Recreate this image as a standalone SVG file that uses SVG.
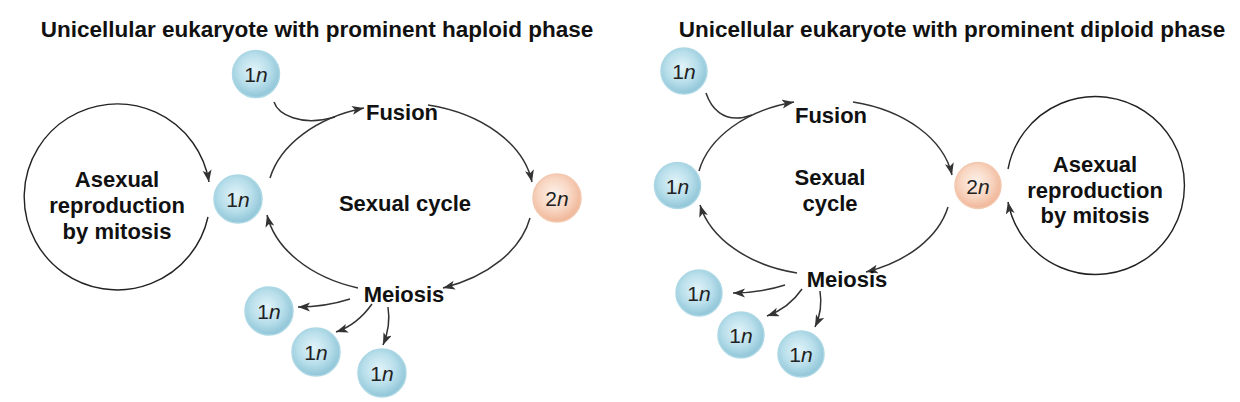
<svg xmlns="http://www.w3.org/2000/svg" width="1240" height="402" viewBox="0 0 1240 402">
<defs>
<style>
.t{font-family:"Liberation Sans",Arial,sans-serif;font-weight:bold;font-size:22px;fill:#111;text-anchor:middle}
.h{font-size:22.5px}
.c{font-family:"Liberation Sans",Arial,sans-serif;font-size:21px;fill:#222;text-anchor:middle}
.c tspan.i{font-style:italic}
.ln{fill:none;stroke:#333;stroke-width:1.5}
.ring{fill:none;stroke:#222;stroke-width:1.4}
.blue{fill:url(#gb);stroke:#acd7e4;stroke-width:1.5}
.orange{fill:url(#go);stroke:#f3c8b0;stroke-width:1.5}
</style>
<radialGradient id="gb" cx="45%" cy="42%" r="60%">
<stop offset="0" stop-color="#e2f3f9"/>
<stop offset="0.55" stop-color="#b9dfeb"/>
<stop offset="1" stop-color="#8cc3d6"/>
</radialGradient>
<radialGradient id="go" cx="45%" cy="42%" r="60%">
<stop offset="0" stop-color="#fdf2ea"/>
<stop offset="0.55" stop-color="#f8d6c2"/>
<stop offset="1" stop-color="#efb394"/>
</radialGradient>
<marker id="ah" markerUnits="userSpaceOnUse" markerWidth="13" markerHeight="10" refX="12" refY="4.5" orient="auto">
<path d="M0,0 L12,4.5 L0,9 L3,4.5 z" fill="#333"/>
</marker>
</defs>

<g id="titles">
<text class="t h" x="317" y="37">Unicellular eukaryote with prominent haploid phase</text>
<text class="t h" x="952" y="37">Unicellular eukaryote with prominent diploid phase</text>
</g>

<g id="connectors">
<!-- left panel -->
<path class="ring" d="M208 217 A93 93 0 1 1 209 182" marker-end="url(#ah)"/>
<path class="ln" d="M270 178 A135 93 0 0 1 364 108" marker-end="url(#ah)"/>
<path class="ln" d="M274 102 C278 114 300 127 335 117"/>
<path class="ln" d="M428 105 A135 93 0 0 1 532 182" marker-end="url(#ah)"/>
<path class="ln" d="M530 218 A135 93 0 0 1 443 288" marker-end="url(#ah)"/>
<path class="ln" d="M358 288 A135 93 0 0 1 267 215" marker-end="url(#ah)"/>
<path class="ln" d="M350 299 Q325 307 298 307" marker-end="url(#ah)"/>
<path class="ln" d="M372 304 Q357 325 336 332" marker-end="url(#ah)"/>
<path class="ln" d="M388 307 Q391 326 383 345" marker-end="url(#ah)"/>
<!-- right panel -->
<path class="ring" d="M1008 169 A89 89 0 1 1 1008 202" marker-end="url(#ah)"/>
<path class="ln" d="M699 171 A129 89 0 0 1 794 102" marker-end="url(#ah)"/>
<path class="ln" d="M706 93 C710 105 722 126 752 115"/>
<path class="ln" d="M853 102 A129 89 0 0 1 952 175" marker-end="url(#ah)"/>
<path class="ln" d="M948 207 A129 89 0 0 1 866 272" marker-end="url(#ah)"/>
<path class="ln" d="M797 273 A129 89 0 0 1 700 205" marker-end="url(#ah)"/>
<path class="ln" d="M785 285 Q760 293 733 293" marker-end="url(#ah)"/>
<path class="ln" d="M802 289 Q789 308 767 316" marker-end="url(#ah)"/>
<path class="ln" d="M820 291 Q823 310 815 327" marker-end="url(#ah)"/>
</g>

<!-- left panel nodes -->
<g id="L-asexual"><text class="t" x="117" y="187">Asexual</text><text class="t" x="117" y="213">reproduction</text><text class="t" x="117" y="239">by mitosis</text></g>
<g id="L-sexual"><text class="t" x="405" y="211">Sexual cycle</text></g>
<g id="L-fusion"><text class="t" x="402" y="120">Fusion</text></g>
<g id="L-meiosis"><text class="t" x="404" y="302">Meiosis</text></g>
<g id="L-1n-top"><circle class="blue" cx="256" cy="74" r="23.5"/><text class="c" x="256" y="82">1<tspan class="i">n</tspan></text></g>
<g id="L-1n-mid"><circle class="blue" cx="238" cy="199" r="24"/><text class="c" x="238" y="207">1<tspan class="i">n</tspan></text></g>
<g id="L-2n"><circle class="orange" cx="557" cy="198" r="24"/><text class="c" x="557" y="206">2<tspan class="i">n</tspan></text></g>
<g id="L-1n-a"><circle class="blue" cx="269" cy="311" r="24"/><text class="c" x="269" y="319">1<tspan class="i">n</tspan></text></g>
<g id="L-1n-b"><circle class="blue" cx="316" cy="352" r="24"/><text class="c" x="316" y="360">1<tspan class="i">n</tspan></text></g>
<g id="L-1n-c"><circle class="blue" cx="382" cy="373" r="24"/><text class="c" x="382" y="381">1<tspan class="i">n</tspan></text></g>

<!-- right panel nodes -->
<g id="R-asexual"><text class="t" x="1095" y="172">Asexual</text><text class="t" x="1095" y="198">reproduction</text><text class="t" x="1095" y="223">by mitosis</text></g>
<g id="R-sexual"><text class="t" x="830" y="185">Sexual</text><text class="t" x="830" y="211">cycle</text></g>
<g id="R-fusion"><text class="t" x="831" y="123">Fusion</text></g>
<g id="R-meiosis"><text class="t" x="847" y="287">Meiosis</text></g>
<g id="R-1n-top"><circle class="blue" cx="684" cy="71" r="23"/><text class="c" x="684" y="79">1<tspan class="i">n</tspan></text></g>
<g id="R-1n-left"><circle class="blue" cx="677.5" cy="185.5" r="23"/><text class="c" x="677.5" y="193.5">1<tspan class="i">n</tspan></text></g>
<g id="R-2n"><circle class="orange" cx="978" cy="185.5" r="23"/><text class="c" x="978" y="193.5">2<tspan class="i">n</tspan></text></g>
<g id="R-1n-a"><circle class="blue" cx="699" cy="293" r="23"/><text class="c" x="699" y="301">1<tspan class="i">n</tspan></text></g>
<g id="R-1n-b"><circle class="blue" cx="741" cy="335" r="23"/><text class="c" x="741" y="343">1<tspan class="i">n</tspan></text></g>
<g id="R-1n-c"><circle class="blue" cx="801" cy="354" r="23"/><text class="c" x="801" y="362">1<tspan class="i">n</tspan></text></g>
</svg>
